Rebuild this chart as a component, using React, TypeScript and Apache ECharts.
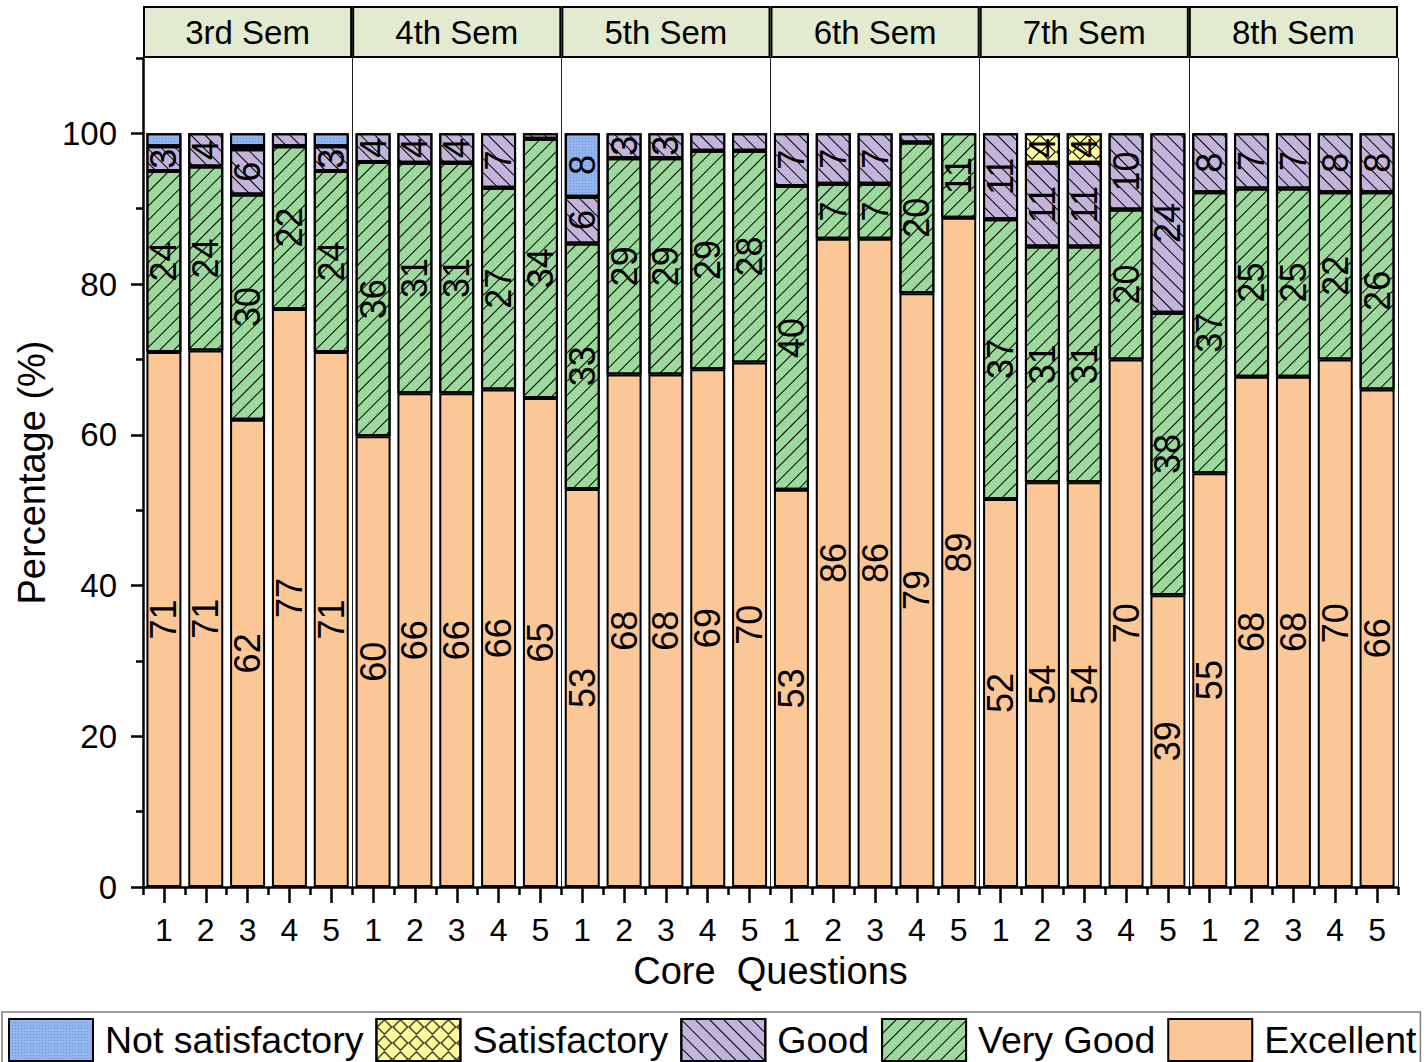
import { useEffect, useRef } from 'react';
import * as echarts from 'echarts';

const semesters = ['3rd Sem', '4th Sem', '5th Sem', '6th Sem', '7th Sem', '8th Sem'];
const questions = ['1', '2', '3', '4', '5'];

const excellent = [71.0, 71.2, 62.0, 76.7, 71.0, 59.8, 65.5, 65.5, 66.0, 64.9, 52.8, 68.0, 68.0, 68.7, 69.6, 52.7, 86.0, 86.0, 78.8, 88.8, 51.5, 53.7, 53.7, 70.0, 38.7, 54.9, 67.7, 67.7, 70.0, 66.0];
const veryGood = [24.0, 24.4, 29.9, 21.6, 24.0, 36.4, 30.6, 30.6, 26.8, 34.4, 32.6, 28.7, 28.7, 29.0, 28.1, 40.3, 7.3, 7.3, 20.0, 11.2, 37.1, 31.3, 31.3, 19.9, 37.5, 37.3, 25.0, 25.0, 22.2, 26.2];
const good = [3.3, 4.4, 6.0, 1.7, 3.3, 3.8, 3.9, 3.9, 7.2, 0.7, 6.2, 3.3, 3.3, 2.3, 2.3, 7.0, 6.7, 6.7, 1.2, 0, 11.4, 11.1, 11.1, 10.1, 23.8, 7.8, 7.3, 7.3, 7.8, 7.8];
const satisfactory = [0, 0, 0.4, 0, 0, 0, 0, 0, 0, 0, 0, 0, 0, 0, 0, 0, 0, 0, 0, 0, 0, 3.9, 3.9, 0, 0, 0, 0, 0, 0, 0];
const notSatisfactory = [1.7, 0, 1.7, 0, 1.7, 0, 0, 0, 0, 0, 8.4, 0, 0, 0, 0, 0, 0, 0, 0, 0, 0, 0, 0, 0, 0, 0, 0, 0, 0, 0];

const yTicks = [0, 20, 40, 60, 80, 100];
const yMinorTicks = [10, 30, 50, 70, 90, 110];

const FONT = '"Liberation Sans", Arial, sans-serif';

export default function App() {
  const ref = useRef<HTMLDivElement>(null);

  useEffect(() => {
    if (!ref.current) return;
    const chart = echarts.init(ref.current, undefined, { renderer: 'svg' });

    const categories: string[] = [];
    semesters.forEach((s) => questions.forEach((q) => categories.push(s + '|' + q)));

    const lineDecal = (rot: number) => ({
      symbol: 'rect',
      symbolSize: 1,
      dashArrayX: [1, 0],
      dashArrayY: [1, 9],
      rotation: rot,
      color: '#000',
    });

    const labelOpt = {
      show: true,
      position: 'inside',
      rotate: 90,
      fontSize: 36,
      color: '#000',
      fontFamily: FONT,
      formatter: (p: any) => (p.value != null && p.value >= 2.5 ? String(Math.round(p.value)) : ''),
    };

    const mk = (name: string, data: number[], color: string, decal: any) => ({
      name,
      type: 'bar',
      stack: 'total',
      xAxisIndex: 0,
      yAxisIndex: 0,
      barWidth: 35,
      data: data.map((v) => (v === 0 ? null : v)),
      itemStyle: { color, borderColor: '#000', borderWidth: 2, decal },
      label: labelOpt,
      emphasis: { disabled: true },
    });

    const option: any = {
      animation: false,
      textStyle: { fontFamily: FONT, color: '#000' },
      grid: [
        { left: 143, right: 28, top: 58, bottom: 175, containLabel: false },
        { left: 143, right: 28, top: 6, height: 52, containLabel: false },
      ],
      xAxis: [
        {
          type: 'category',
          gridIndex: 0,
          position: 'bottom',
          data: categories,
          axisLine: { show: true, lineStyle: { color: '#000', width: 2.5 } },
          axisTick: { show: true, alignWithLabel: true, length: 16, lineStyle: { color: '#000', width: 2.5 } },
          axisLabel: {
            interval: 0,
            fontSize: 32,
            color: '#000',
            margin: 27,
            formatter: (v: string) => v.split('|')[1],
          },
          name: 'Core  Questions',
          nameLocation: 'middle',
          nameGap: 65,
          nameTextStyle: { fontSize: 38, color: '#000' },
        },
        {
          type: 'category',
          gridIndex: 0,
          position: 'bottom',
          data: categories,
          axisLine: { show: false },
          axisTick: { show: true, alignWithLabel: false, interval: 0, length: 8, lineStyle: { color: '#000', width: 2.5 } },
          axisLabel: { show: false },
        },
        {
          type: 'category',
          gridIndex: 0,
          position: 'top',
          data: semesters,
          axisLine: { show: false },
          axisTick: { show: false },
          axisLabel: { show: false },
          splitLine: { show: true, interval: 0, lineStyle: { color: '#222', width: 1 } },
        },
        {
          type: 'category',
          gridIndex: 1,
          position: 'top',
          data: semesters,
          axisLine: { show: false },
          axisTick: { show: false },
          axisLabel: { show: false },
        },
      ],
      yAxis: [
        {
          type: 'value',
          gridIndex: 0,
          position: 'left',
          min: 0,
          max: 110,
          interval: 20,
          axisLine: { show: true, lineStyle: { color: '#000', width: 2.5 } },
          axisTick: { show: true, length: 12, customValues: yTicks, lineStyle: { color: '#000', width: 2.5 } },
          axisLabel: { fontSize: 33, color: '#000', margin: 26, customValues: yTicks },
          splitLine: { show: false },
          name: 'Percentage (%)',
          nameLocation: 'middle',
          nameGap: 92,
          nameTextStyle: { fontSize: 38, color: '#000' },
        },
        {
          type: 'value',
          gridIndex: 0,
          position: 'left',
          min: 0,
          max: 110,
          interval: 10,
          axisLine: { show: false },
          axisTick: { show: true, length: 7, customValues: yMinorTicks, lineStyle: { color: '#000', width: 2.5 } },
          axisLabel: { show: false },
          splitLine: { show: false },
        },
        {
          type: 'value',
          gridIndex: 1,
          min: 0,
          max: 1,
          show: false,
        },
      ],
      legend: {
        left: 2,
        top: 1012,
        width: 1420,
        padding: [6, 4, 6, 6],
        borderColor: '#7f7f7f',
        borderWidth: 1.5,
        itemWidth: 84,
        itemHeight: 42,
        itemGap: 12,
        icon: 'rect',
        selectedMode: false,
        textStyle: { fontSize: 37.5, color: '#000', padding: [0, 0, 0, 7], fontFamily: FONT },
        data: ['Not satisfactory', 'Satisfactory', 'Good', 'Very Good', 'Excellent'],
      },
      series: [
        mk('Excellent', excellent, '#FBC796', undefined),
        mk('Very Good', veryGood, '#9DD89D', lineDecal(-Math.PI / 4)),
        mk('Good', good, '#C2B4DA', lineDecal(Math.PI / 4)),
        mk('Satisfactory', satisfactory, '#FFFA9C', {
          symbol: 'path://M5,0L10,5L5,10L0,5Z M5,1L1,5L5,9L9,5Z',
          symbolSize: 1,
          dashArrayX: [16, 0],
          dashArrayY: [16, 0],
          color: '#000',
        }),
        mk('Not satisfactory', notSatisfactory, '#93B5EF', {
          symbol: 'rect',
          symbolSize: 1,
          dashArrayX: [1, 2],
          dashArrayY: [1, 2],
          color: 'rgba(60,90,170,0.4)',
        }),
        {
          name: 'header',
          type: 'bar',
          xAxisIndex: 3,
          yAxisIndex: 2,
          barWidth: '100%',
          silent: true,
          data: semesters.map(() => 1),
          itemStyle: { color: '#E2EACF', borderColor: '#000', borderWidth: 2 },
          label: {
            show: true,
            position: 'inside',
            fontSize: 33,
            color: '#000',
            fontFamily: FONT,
            formatter: (p: any) => p.name,
          },
        },
      ],
    };

    chart.setOption(option);
    return () => chart.dispose();
  }, []);

  return (
    <div
      ref={ref}
      style={{ position: 'absolute', left: 0, top: 0, width: 1426, height: 1062, background: '#fff' }}
    />
  );
}
